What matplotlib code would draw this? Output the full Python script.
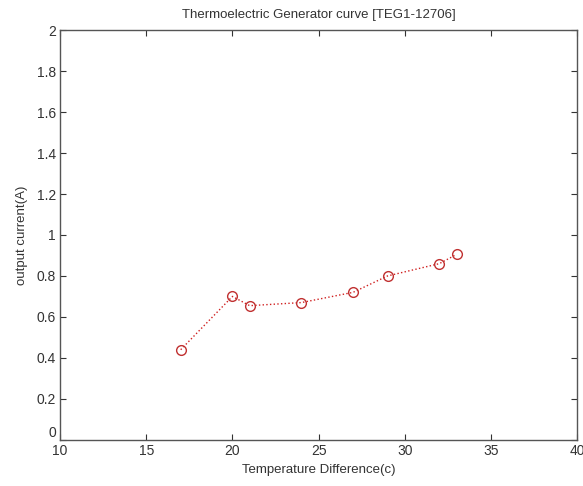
import matplotlib
matplotlib.use('Agg')
import matplotlib.pyplot as plt

plt.rcParams['font.family'] = ['Liberation Sans', 'DejaVu Sans']

# temperature difference (c) and output current (A)
temp_diff = [17, 20, 21, 24, 27, 29, 32, 33]
current = [0.44, 0.70, 0.655, 0.67, 0.72, 0.80, 0.86, 0.905]

x_ticks = [10, 15, 20, 25, 30, 35, 40]
y_ticks = [0, 0.2, 0.4, 0.6, 0.8, 1, 1.2, 1.4, 1.6, 1.8, 2]
y_labels = ['0', '0.2', '0.4', '0.6', '0.8', '1', '1.2', '1.4', '1.6', '1.8', '2']

fig = plt.figure(figsize=(5.83, 4.86), dpi=100)
ax = fig.add_axes([0.103, 0.095, 0.887, 0.843])

ax.plot(temp_diff, current, color='#d02020', linestyle=':', linewidth=1.0,
        marker='o', markersize=7, markerfacecolor='none', markeredgecolor='#c03030',
        markeredgewidth=1.0)

ax.set_xlim(10, 40)
ax.set_ylim(0, 2)
ax.set_xticks(x_ticks)
ax.set_yticks(y_ticks)
ax.set_yticklabels(y_labels)
ax.tick_params(direction='in', length=4, top=True, right=True, labelsize=10, colors='#333333')
ax.tick_params(axis='x', pad=3)
ax.tick_params(axis='y', pad=3)
# the "0" sits a bit above the corner, like the original
ax.get_yticklabels()[0].set_verticalalignment('bottom')
for s in ax.spines.values():
    s.set_color('#555555')
    s.set_linewidth(1.0)

ax.set_title('Thermoelectric Generator curve [TEG1-12706]', fontsize=9.5, color='#333333', pad=9)
ax.set_xlabel('Temperature Difference(c)', fontsize=9.5, color='#333333', labelpad=4)
ax.set_ylabel('output current(A)', fontsize=9.5, color='#333333', labelpad=6)

plt.savefig('out.png', dpi=100)
